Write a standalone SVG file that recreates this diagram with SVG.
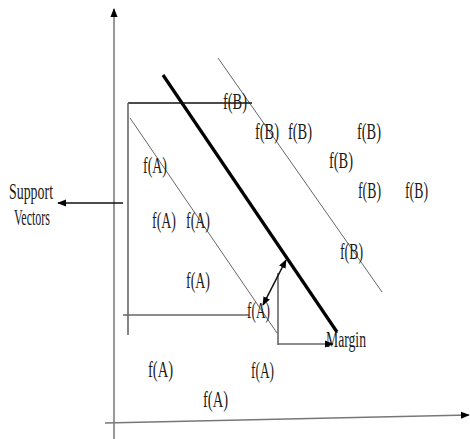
<svg xmlns="http://www.w3.org/2000/svg" width="470" height="439" viewBox="0 0 470 439">
<style>
text{font-family:"Liberation Serif","Times New Roman",serif;font-size:24px;fill:#1a1a1a;}
.ax{stroke:#777;stroke-width:1.5;fill:none}
.thin{stroke:#666;stroke-width:1;fill:none}
.thick{stroke:#000;stroke-width:3.2;fill:none}
.blk{stroke:#111;stroke-width:1.6;fill:none}
.gr{stroke:#666;stroke-width:1.6;fill:none}
</style>
<defs>
<marker id="ah" viewBox="0 0 10 10" refX="9" refY="5" markerWidth="9" markerHeight="9" markerUnits="userSpaceOnUse" orient="auto-start-reverse">
<path d="M0,1 L10,5 L0,9 Z" fill="#000"/>
</marker>
</defs>
<rect width="470" height="439" fill="#fff"/>
<g id="connectors">
<line class="ax" x1="114" y1="439" x2="114" y2="9" marker-end="url(#ah)"/>
<line class="ax" x1="105" y1="423" x2="469" y2="415" stroke="#222" marker-end="url(#ah)"/>
<line class="thick" x1="163" y1="75" x2="337" y2="332"/>
<line class="thin" x1="218" y1="58" x2="382" y2="292"/>
<line class="thin" x1="130" y1="118" x2="277" y2="333"/>
<line class="blk" x1="128" y1="103" x2="252" y2="103"/>
<line class="gr" x1="128" y1="103" x2="128" y2="335"/>
<line class="gr" x1="123" y1="315" x2="249" y2="315"/>
<line class="blk" x1="123" y1="203" x2="58" y2="203" marker-end="url(#ah)"/>
<line class="gr" x1="278" y1="273" x2="278" y2="345"/>
<line class="gr" x1="278" y1="344" x2="333" y2="344" marker-end="url(#ah)"/>
<line class="blk" stroke-width="1" x1="263" y1="305" x2="286" y2="260" marker-start="url(#ah)" marker-end="url(#ah)"/>
</g>
<g id="labels">
<text x="9" y="199" textLength="44" lengthAdjust="spacingAndGlyphs">Support</text>
<text x="14" y="225" textLength="36" lengthAdjust="spacingAndGlyphs">Vectors</text>
<text x="326" y="347" textLength="40" lengthAdjust="spacingAndGlyphs">Margin</text>
</g>
<g id="classB">
<text x="223" y="109" textLength="24" lengthAdjust="spacingAndGlyphs">f(B)</text>
<text x="255" y="139" textLength="24" lengthAdjust="spacingAndGlyphs">f(B)</text>
<text x="288" y="139" textLength="24" lengthAdjust="spacingAndGlyphs">f(B)</text>
<text x="357" y="139" textLength="24" lengthAdjust="spacingAndGlyphs">f(B)</text>
<text x="329" y="168" textLength="24" lengthAdjust="spacingAndGlyphs">f(B)</text>
<text x="358" y="198" textLength="23" lengthAdjust="spacingAndGlyphs">f(B)</text>
<text x="405" y="198" textLength="23" lengthAdjust="spacingAndGlyphs">f(B)</text>
<text x="340" y="259" textLength="23" lengthAdjust="spacingAndGlyphs">f(B)</text>
</g>
<g id="classA">
<text x="143" y="173" textLength="24" lengthAdjust="spacingAndGlyphs">f(A)</text>
<text x="152" y="228" textLength="24" lengthAdjust="spacingAndGlyphs">f(A)</text>
<text x="186" y="228" textLength="24" lengthAdjust="spacingAndGlyphs">f(A)</text>
<text x="186" y="288" textLength="24" lengthAdjust="spacingAndGlyphs">f(A)</text>
<text x="247" y="318" textLength="23" lengthAdjust="spacingAndGlyphs">f(A)</text>
<text x="148" y="377" textLength="25" lengthAdjust="spacingAndGlyphs">f(A)</text>
<text x="203" y="407" textLength="25" lengthAdjust="spacingAndGlyphs">f(A)</text>
<text x="251" y="378" textLength="23" lengthAdjust="spacingAndGlyphs">f(A)</text>
</g>
</svg>
